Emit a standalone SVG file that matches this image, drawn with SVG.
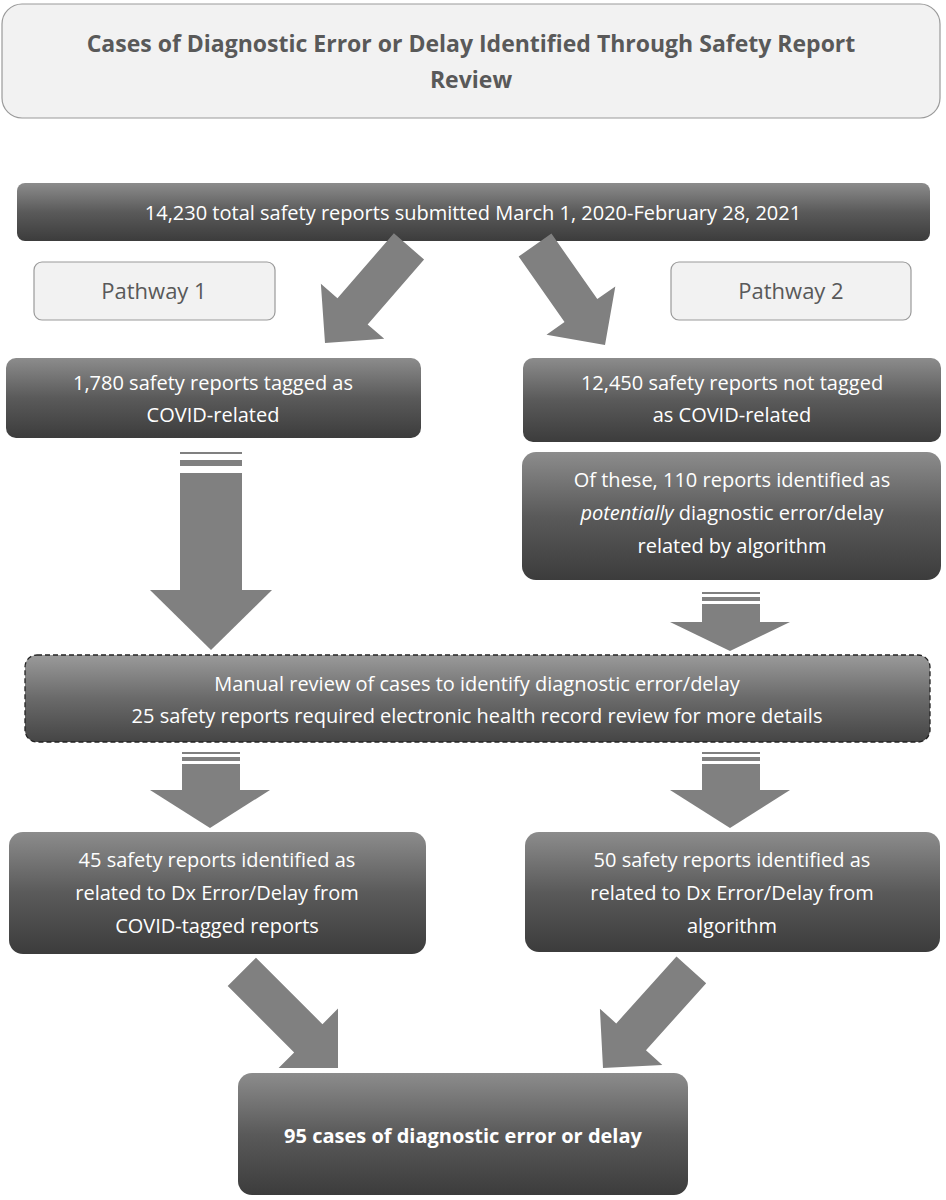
<svg xmlns="http://www.w3.org/2000/svg" width="946" height="1200" viewBox="0 0 946 1200">
<defs>
<linearGradient id="g" x1="0" y1="0" x2="0" y2="1"><stop offset="0" stop-color="#8c8c8c"/><stop offset="0.5" stop-color="#5a5a5a"/><stop offset="1" stop-color="#3c3c3c"/></linearGradient>
<linearGradient id="gf" x1="0" y1="0" x2="0" y2="1"><stop offset="0" stop-color="#9a9a9a"/><stop offset="0.5" stop-color="#6a6a6a"/><stop offset="1" stop-color="#454545"/></linearGradient>
</defs>
<style>
.dk{fill:url(#g);}
.lt{fill:#f2f2f2;stroke:#9a9a9a;stroke-width:1.2;}
.w{fill:#fff;font-family:"Open Sans","Liberation Sans",sans-serif;font-size:20px;text-anchor:middle;}
.t{fill:#595959;font-family:"Open Sans","Liberation Sans",sans-serif;text-anchor:middle;}
.ar{fill:#808080;}
</style>
<rect width="946" height="1200" fill="#fff"/>
<g id="title"><rect class="lt" x="2" y="4" width="938" height="114" rx="20"/>
<text class="t" font-size="23" font-weight="bold" x="471" y="52">Cases of Diagnostic Error or Delay Identified Through Safety Report</text>
<text class="t" font-size="23" font-weight="bold" x="471" y="88">Review</text></g>
<g id="total"><rect class="dk" x="17" y="183" width="913" height="58" rx="8"/><text class="w" x="473" y="220">14,230 total safety reports submitted March 1, 2020-February 28, 2021</text></g>
<g id="p1"><rect class="lt" x="34" y="262" width="241" height="58" rx="8"/><text class="t" font-size="22" x="154" y="299">Pathway 1</text></g>
<g id="p2"><rect class="lt" x="671" y="262" width="240" height="58" rx="8"/><text class="t" font-size="22" x="791" y="299">Pathway 2</text></g>
<g id="a"><rect class="dk" x="6" y="358" width="415" height="80" rx="10"/><text class="w" x="213" y="390">1,780 safety reports tagged as</text><text class="w" x="213" y="422">COVID-related</text></g>
<g id="b"><rect class="dk" x="523" y="358" width="418" height="84" rx="10"/><text class="w" x="732" y="390">12,450 safety reports not tagged</text><text class="w" x="732" y="422">as COVID-related</text></g>
<g id="c"><rect class="dk" x="522" y="452" width="419" height="128" rx="14"/><text class="w" x="732" y="487">Of these, 110 reports identified as</text><text class="w" x="732" y="520"><tspan font-style="italic">potentially</tspan> diagnostic error/delay</text><text class="w" x="732" y="553">related by algorithm</text></g>
<g id="review"><rect x="25" y="655" width="905" height="87" rx="12" fill="url(#gf)" stroke="#222" stroke-width="1.3" stroke-dasharray="5,3"/><text class="w" x="477" y="691">Manual review of cases to identify diagnostic error/delay</text><text class="w" x="477" y="723">25 safety reports required electronic health record review for more details</text></g>
<g id="d"><rect class="dk" x="9" y="832" width="417" height="122" rx="14"/><text class="w" x="217" y="867">45 safety reports identified as</text><text class="w" x="217" y="900">related to Dx Error/Delay from</text><text class="w" x="217" y="933">COVID-tagged reports</text></g>
<g id="e"><rect class="dk" x="525" y="832" width="415" height="120" rx="14"/><text class="w" x="732" y="867">50 safety reports identified as</text><text class="w" x="732" y="900">related to Dx Error/Delay from</text><text class="w" x="732" y="933">algorithm</text></g>
<g id="final"><rect class="dk" x="238" y="1073" width="450" height="122" rx="14"/><text class="w" font-weight="bold" x="463" y="1143">95 cases of diagnostic error or delay</text></g>
<g id="connectors" class="ar">
<path d="M-20,-128 H20 V-42 H42 L0,0 L-42,-42 H-20 Z" transform="translate(325,343) rotate(41)"/>
<path d="M-20,-122 H20 V-42 H42 L0,0 L-42,-42 H-20 Z" transform="translate(605,345) rotate(-35)"/>
<path d="M-20,-136 H20 V-42 H42 L0,0 L-42,-42 H-20 Z" transform="translate(338,1068) rotate(-45)"/>
<path d="M-20,-132 H20 V-42 H42 L0,0 L-42,-42 H-20 Z" transform="translate(603,1068) rotate(42)"/>
<rect x="180" y="473" width="62" height="118"/><rect x="180" y="460" width="62" height="6"/><rect x="180" y="452" width="62" height="2"/>
<path d="M150,590 H272 L211,650 Z"/>
<rect x="702" y="604" width="58" height="20"/><rect x="702" y="597" width="58" height="4"/><rect x="702" y="592" width="58" height="2"/>
<path d="M670,622 H790 L730,651 Z"/>
<rect x="182" y="764" width="58" height="28"/><rect x="182" y="757" width="58" height="4"/><rect x="182" y="752" width="58" height="2"/>
<path d="M150,790 H270 L210,828 Z"/>
<rect x="702" y="764" width="58" height="28"/><rect x="702" y="757" width="58" height="4"/><rect x="702" y="752" width="58" height="2"/>
<path d="M670,790 H790 L730,828 Z"/>
</g>
</svg>
